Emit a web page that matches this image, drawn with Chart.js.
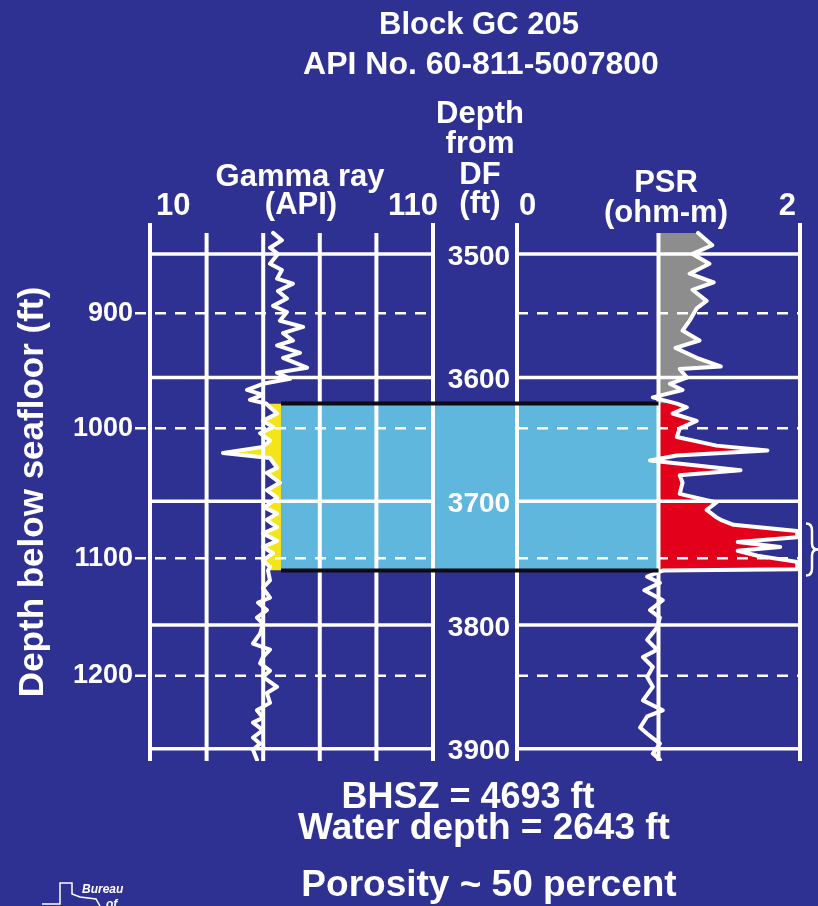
<!DOCTYPE html>
<html>
<head>
<meta charset="utf-8">
<title>Block GC 205</title>
<script src="https://cdn.jsdelivr.net/npm/chart.js@4.4.1/dist/chart.umd.min.js"></script>
<style>
  html, body { margin: 0; padding: 0; background: #2e3191; overflow: hidden; }
  canvas { display: block; }
</style>
</head>
<body>
<canvas id="logChart" width="818" height="906"></canvas>
<script>
// depths are feet below the derrick floor (DF)
var gammaDepth = [3483, 3489, 3495, 3500, 3508, 3513, 3520, 3524, 3530, 3536,
                  3542, 3547, 3554, 3559, 3564, 3570, 3574, 3580, 3584, 3592,
                  3596, 3601, 3605, 3610, 3614, 3618, 3621, 3624, 3629, 3635,
                  3640, 3645, 3651, 3656, 3661, 3665, 3673, 3677, 3685, 3691,
                  3697, 3705, 3710, 3715, 3721, 3726, 3732, 3737, 3742, 3748,
                  3753, 3756, 3764, 3770, 3778, 3782, 3788, 3794, 3799, 3807,
                  3815, 3820, 3826, 3831, 3837, 3842, 3850, 3855, 3863, 3869,
                  3875, 3879, 3885, 3891, 3896, 3901, 3909];
var gammaValue = [53.5, 56.6, 52.4, 55.2, 52.4, 56.6, 54.9, 60.5, 55.2, 58.4,
                  53.5, 58.4, 55.9, 64.1, 57.0, 60.5, 54.9, 63.0, 57.0, 65.5,
                  54.9, 59.5, 49.9, 44.3, 49.9, 45.3, 51.0, 52.4, 54.9, 49.9,
                  53.5, 48.9, 52.4, 49.9, 35.8, 52.4, 54.9, 51.3, 55.9, 51.3,
                  54.9, 50.5, 54.9, 51.3, 54.9, 49.9, 54.9, 49.9, 53.5, 49.9,
                  52.4, 51.7, 52.4, 49.9, 52.4, 48.2, 51.3, 47.8, 49.9, 48.9,
                  46.4, 52.4, 49.9, 48.9, 52.4, 49.9, 54.9, 51.3, 52.4, 47.8,
                  49.9, 46.4, 49.9, 46.4, 48.9, 46.4, 47.8];

var psrDepth = [3483, 3493, 3500, 3508, 3516, 3523, 3529, 3538, 3544, 3554,
                3562, 3570, 3576, 3584, 3591, 3593, 3600, 3605, 3610, 3616,
                3621, 3624, 3629, 3635, 3641, 3648, 3655, 3659, 3663, 3667,
                3671, 3675, 3679, 3685, 3694, 3701, 3707, 3713, 3715, 3719,
                3724, 3729, 3733, 3737, 3740, 3744, 3749, 3755, 3756, 3761,
                3766, 3772, 3780, 3788, 3794, 3802, 3812, 3820, 3826, 3834,
                3842, 3850, 3861, 3869, 3874, 3883, 3888, 3896, 3904, 3909];
var psrValue = [1.28, 1.38, 1.24, 1.36, 1.22, 1.39, 1.24, 1.34, 1.27, 1.22,
                1.17, 1.29, 1.12, 1.27, 1.44, 1.15, 1.20, 1.08, 1.17, 0.96,
                1.13, 1.20, 1.10, 1.27, 1.15, 1.13, 1.41, 1.77, 1.13, 0.94,
                1.27, 1.58, 1.15, 1.17, 1.15, 1.41, 1.34, 1.41, 1.44, 1.53,
                1.98, 1.98, 1.56, 1.86, 1.56, 1.70, 1.98, 1.98, 1.03, 0.92,
                1.01, 0.90, 1.03, 0.94, 1.01, 0.99, 0.92, 0.99, 0.89, 0.96,
                0.92, 0.96, 0.89, 1.03, 0.92, 0.87, 0.92, 1.01, 0.96, 1.01];

var dfTicks = [3500, 3600, 3700, 3800, 3900];
var seafloorTicks = [900, 1000, 1100, 1200];
var seafloorTickDF = [3548, 3641, 3746, 3841];
var gammaGrid = [10, 30, 50, 70, 90, 110];
var psrGrid = [0, 1, 2];

// hydrate-bearing interval
var hydrateTop = 3621;
var hydrateBase = 3756;
var hydrateGammaEdge = 56.3;
var psrBaseline = 1;

var FONT = '"Liberation Sans", Arial, Helvetica, sans-serif';
var WHITE = '#ffffff';
var BG = '#2e3191';

// tracks: gamma 150-433 px, depth column 433-517 px, PSR 517-800 px
var plotLeft = 150, plotRight = 800, trackWidth = 283;
var span = (plotRight - plotLeft) / trackWidth;
var depthMin = 3475, depthMax = 3910;

function points(depths, values, from, to) {
  var out = [];
  for (var i = 0; i < depths.length; i++) {
    if (depths[i] >= from && depths[i] <= to) out.push({x: values[i], y: depths[i]});
  }
  return out;
}

function font(size, style) {
  return (style || 'bold') + ' ' + size + 'px ' + FONT;
}

function line(ctx, x0, y0, x1, y1) {
  ctx.beginPath();
  ctx.moveTo(x0, y0);
  ctx.lineTo(x1, y1);
  ctx.stroke();
}

function drawGrid(chart) {
  var ctx = chart.ctx, area = chart.chartArea;
  var xg = chart.scales.xg, xp = chart.scales.xp, y = chart.scales.y;
  var gL = xg.getPixelForValue(gammaGrid[0]), gR = xg.getPixelForValue(gammaGrid[gammaGrid.length - 1]);
  var pL = xp.getPixelForValue(psrGrid[0]), pR = xp.getPixelForValue(psrGrid[psrGrid.length - 1]);
  var innerTop = y.getPixelForValue(gammaDepth[0]);

  ctx.save();
  ctx.strokeStyle = WHITE;
  ctx.lineWidth = 4;
  gammaGrid.forEach(function (v, i) {
    var x = xg.getPixelForValue(v);
    var edge = i === 0 || i === gammaGrid.length - 1;
    line(ctx, x, edge ? area.top : innerTop, x, area.bottom);
  });
  psrGrid.forEach(function (v, i) {
    var x = xp.getPixelForValue(v);
    var edge = i === 0 || i === psrGrid.length - 1;
    line(ctx, x, edge ? area.top : innerTop, x, area.bottom);
  });

  ctx.lineWidth = 3.5;
  dfTicks.forEach(function (d) {
    var py = y.getPixelForValue(d);
    line(ctx, gL, py, gR, py);
    line(ctx, pL, py, pR, py);
  });

  ctx.lineWidth = 2.5;
  ctx.setLineDash([11, 9]);
  seafloorTickDF.forEach(function (d) {
    var py = y.getPixelForValue(d);
    line(ctx, gL - 15, py, gR, py);
    line(ctx, pL, py, pR, py);
  });
  ctx.restore();
}

var wellLog = {
  id: 'wellLog',
  beforeDraw: function (chart) {
    var ctx = chart.ctx, xg = chart.scales.xg, xp = chart.scales.xp, y = chart.scales.y;
    ctx.save();
    ctx.fillStyle = BG;
    ctx.fillRect(0, 0, chart.width, chart.height);
    var x0 = xg.getPixelForValue(hydrateGammaEdge), x1 = xp.getPixelForValue(psrBaseline);
    var y0 = y.getPixelForValue(hydrateTop), y1 = y.getPixelForValue(hydrateBase);
    ctx.fillStyle = '#5fb7dd';
    ctx.fillRect(x0, y0, x1 - x0, y1 - y0);
    ctx.restore();
    chart.$gridDone = false;
  },
  beforeDatasetDraw: function (chart) {
    // grid goes over the fills but under the curves
    if (chart.$gridDone) return;
    chart.$gridDone = true;
    drawGrid(chart);
  },
  afterDatasetsDraw: function (chart) {
    var ctx = chart.ctx, xg = chart.scales.xg, xp = chart.scales.xp, y = chart.scales.y;
    var x0 = xg.getPixelForValue(hydrateGammaEdge), x1 = xp.getPixelForValue(psrBaseline);
    ctx.save();
    ctx.strokeStyle = '#0b0b14';
    ctx.lineWidth = 4;
    line(ctx, x0, y.getPixelForValue(hydrateTop), x1, y.getPixelForValue(hydrateTop));
    line(ctx, x0, y.getPixelForValue(hydrateBase), x1, y.getPixelForValue(hydrateBase));
    ctx.restore();
  },
  afterDraw: function (chart) {
    var ctx = chart.ctx, xg = chart.scales.xg, xp = chart.scales.xp, y = chart.scales.y;
    ctx.save();
    ctx.fillStyle = WHITE;
    ctx.textBaseline = 'alphabetic';
    ctx.textAlign = 'center';

    ctx.font = font(31);
    ctx.fillText('Block GC 205', 479, 34);
    ctx.font = font(32);
    ctx.fillText('API No. 60-811-5007800', 481, 74);

    ctx.font = font(31);
    ctx.fillText('Depth', 480, 123);
    ctx.fillText('from', 480, 153);
    ctx.fillText('DF', 480, 184);
    ctx.fillText('(ft)', 480, 213);
    ctx.fillText('Gamma ray', 300, 186);
    ctx.fillText('(API)', 301, 214);
    ctx.fillText('PSR', 666, 192);
    ctx.fillText('(ohm-m)', 666, 222);

    // scale end values over each track
    ctx.textAlign = 'left';
    ctx.fillText(String(gammaGrid[0]), xg.getPixelForValue(gammaGrid[0]) + 6, 215);
    ctx.fillText(String(psrGrid[0]), xp.getPixelForValue(psrGrid[0]) + 2, 215);
    ctx.textAlign = 'right';
    ctx.fillText(String(gammaGrid[gammaGrid.length - 1]), xg.getPixelForValue(gammaGrid[gammaGrid.length - 1]) + 5, 215);
    ctx.fillText(String(psrGrid[psrGrid.length - 1]), xp.getPixelForValue(psrGrid[psrGrid.length - 1]) - 4, 215);

    // DF depths in the middle column
    ctx.textAlign = 'center';
    ctx.textBaseline = 'middle';
    ctx.font = font(28);
    dfTicks.forEach(function (d) {
      ctx.fillText(String(d), 479, y.getPixelForValue(d) + 3);
    });

    ctx.textBaseline = 'alphabetic';
    ctx.font = font(36);
    ctx.fillText('BHSZ = 4693 ft', 468, 808);
    ctx.font = font(37);
    ctx.fillText('Water depth = 2643 ft', 484, 839);
    ctx.fillText('Porosity ~ 50 percent', 489, 896);

    // brace beside the resistivity peak
    var bTop = y.getPixelForValue(3718), bBot = y.getPixelForValue(3760), bMid = (bTop + bBot) / 2;
    ctx.strokeStyle = WHITE;
    ctx.lineWidth = 2.5;
    ctx.beginPath();
    ctx.moveTo(806, bTop);
    ctx.quadraticCurveTo(812, bTop, 812, bTop + 7);
    ctx.lineTo(812, bMid - 6);
    ctx.quadraticCurveTo(812, bMid, 818, bMid);
    ctx.quadraticCurveTo(812, bMid, 812, bMid + 6);
    ctx.lineTo(812, bBot - 7);
    ctx.quadraticCurveTo(812, bBot, 806, bBot);
    ctx.stroke();

    // Bureau logo
    ctx.lineWidth = 1.5;
    ctx.beginPath();
    ctx.moveTo(42, 904);
    ctx.lineTo(60, 904);
    ctx.lineTo(60, 883);
    ctx.lineTo(72, 883);
    ctx.lineTo(72, 894);
    ctx.lineTo(80, 897);
    ctx.lineTo(96, 899);
    ctx.lineTo(100, 906);
    ctx.stroke();
    ctx.textAlign = 'left';
    ctx.font = font(12, 'italic bold');
    ctx.fillText('Bureau', 82, 893);
    ctx.fillText('of', 106, 908);
    ctx.restore();
  }
};

var lineStyle = {pointRadius: 0, tension: 0, yAxisID: 'y', borderJoinStyle: 'round', borderCapStyle: 'round'};

function dataset(extra) {
  return Object.assign({}, lineStyle, extra);
}

var logChart = new Chart(document.getElementById('logChart'), {
  type: 'line',
  data: {
    datasets: [
      dataset({
        label: 'Gamma ray hydrate fill',
        data: points(gammaDepth, gammaValue, hydrateTop, hydrateBase),
        xAxisID: 'xg',
        borderColor: 'rgba(0,0,0,0)',
        borderWidth: 1,
        backgroundColor: '#f4e51b',
        fill: {value: hydrateGammaEdge}
      }),
      dataset({
        label: 'PSR above hydrate',
        data: points(psrDepth, psrValue, depthMin, hydrateTop),
        xAxisID: 'xp',
        borderColor: 'rgba(0,0,0,0)',
        borderWidth: 1,
        backgroundColor: '#8d8d8d',
        fill: {value: psrBaseline}
      }),
      dataset({
        label: 'PSR hydrate',
        data: points(psrDepth, psrValue, hydrateTop, hydrateBase),
        xAxisID: 'xp',
        borderColor: 'rgba(0,0,0,0)',
        borderWidth: 1,
        backgroundColor: '#e3001b',
        fill: {value: psrBaseline}
      }),
      dataset({
        label: 'Gamma ray',
        data: points(gammaDepth, gammaValue, depthMin, depthMax),
        xAxisID: 'xg',
        borderColor: WHITE,
        borderWidth: 4,
        fill: false
      }),
      dataset({
        label: 'PSR',
        data: points(psrDepth, psrValue, depthMin, depthMax),
        xAxisID: 'xp',
        borderColor: WHITE,
        borderWidth: 4,
        fill: false
      })
    ]
  },
  options: {
    responsive: false,
    animation: false,
    events: [],
    indexAxis: 'y',
    layout: {padding: {top: 223, bottom: 145, right: 18, left: 0}},
    plugins: {
      legend: {display: false},
      tooltip: {enabled: false},
      filler: {drawTime: 'beforeDatasetsDraw'}
    },
    scales: {
      xg: {
        type: 'linear', axis: 'x', display: false,
        min: gammaGrid[0],
        max: gammaGrid[0] + (gammaGrid[gammaGrid.length - 1] - gammaGrid[0]) * span
      },
      xp: {
        type: 'linear', axis: 'x', display: false,
        min: psrGrid[psrGrid.length - 1] - (psrGrid[psrGrid.length - 1] - psrGrid[0]) * span,
        max: psrGrid[psrGrid.length - 1]
      },
      y: {type: 'linear', display: false, reverse: true, min: depthMin, max: depthMax},
      ys: {
        type: 'linear', position: 'left', reverse: true, min: depthMin, max: depthMax,
        afterBuildTicks: function (scale) {
          scale.ticks = seafloorTickDF.map(function (v) { return {value: v}; });
        },
        afterFit: function (scale) { scale.width = plotLeft; },
        grid: {display: false, drawTicks: true, tickLength: 14},
        border: {display: false},
        ticks: {
          autoSkip: false,
          padding: 3,
          color: WHITE,
          font: {family: FONT, size: 27, weight: 'bold'},
          callback: function (value, index) { return String(seafloorTicks[index]); }
        },
        title: {
          display: true,
          text: 'Depth below seafloor (ft)',
          color: WHITE,
          font: {family: FONT, size: 35, weight: 'bold'},
          padding: {top: 12, bottom: 0}
        }
      }
    }
  },
  plugins: [wellLog]
});
</script>
</body>
</html>
